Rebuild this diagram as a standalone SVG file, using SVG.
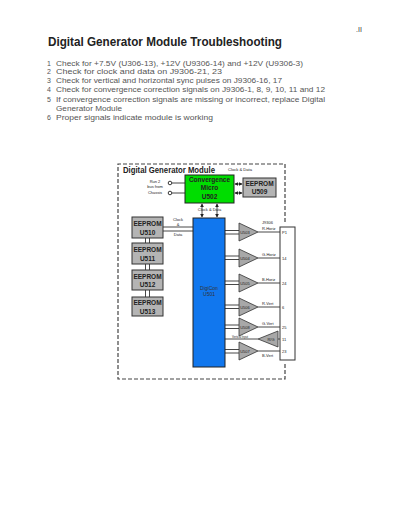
<svg xmlns="http://www.w3.org/2000/svg" width="400" height="518" viewBox="0 0 400 518">
<defs>
<style>
.t{font-family:"Liberation Sans",Arial,sans-serif;fill:#333}
.li{font-size:7px;fill:#555}
.b{font-weight:bold;fill:#222}
.sm{font-size:4px;fill:#222}
.box{fill:#b4b4b4;stroke:#333;stroke-width:1}
.ln{stroke:#333;stroke-width:0.9;fill:none}
.amp{fill:#a8a8a8;stroke:#333;stroke-width:0.8}
.dash{stroke:#444;stroke-width:1.2;stroke-dasharray:4 2;fill:none}
</style>
<marker id="ah" viewBox="0 0 6 6" refX="5" refY="3" markerWidth="4" markerHeight="4" orient="auto-start-reverse"><path d="M0,0L6,3L0,6z" fill="#222"/></marker>
</defs>
<rect width="400" height="518" fill="#fff"/>
<text class="t" x="356" y="32" font-size="7">.II</text>
<text class="t b" x="48" y="46" font-size="12.5" textLength="234" lengthAdjust="spacingAndGlyphs">Digital Generator Module Troubleshooting</text>
<g class="t li">
<text x="47" y="65.5">1</text><text x="56" y="65.5" textLength="247" lengthAdjust="spacingAndGlyphs">Check for +7.5V (U306-13), +12V (U9306-14) and +12V (U9306-3)</text>
<text x="47" y="74">2</text><text x="56" y="74" textLength="166" lengthAdjust="spacingAndGlyphs">Check for clock and data on J9306-21, 23</text>
<text x="47" y="82.5">3</text><text x="56" y="82.5" textLength="226" lengthAdjust="spacingAndGlyphs">Check for vertical and horizontal sync pulses on J9306-16, 17</text>
<text x="47" y="91.5">4</text><text x="56" y="91.5" textLength="269" lengthAdjust="spacingAndGlyphs">Check for convergence correction signals on J9306-1, 8, 9, 10, 11 and 12</text>
<text x="47" y="102">5</text><text x="56" y="102" textLength="269" lengthAdjust="spacingAndGlyphs">If convergence correction signals are missing or incorrect, replace Digital</text>
<text x="56" y="110.5" textLength="66" lengthAdjust="spacingAndGlyphs">Generator Module</text>
<text x="47" y="120">6</text><text x="56" y="120" textLength="157" lengthAdjust="spacingAndGlyphs">Proper signals indicate module is working</text>
</g>

<g id="frame">
<path class="dash" d="M285,222 V164 H118 V379 H285 V364"/>
<text class="t b" x="123" y="173" font-size="9" textLength="92" lengthAdjust="spacingAndGlyphs">Digital Generator Module</text>
<text class="t sm" x="228" y="171" textLength="24" lengthAdjust="spacingAndGlyphs">Clock &amp; Data</text>
</g>

<g id="connectors">
<circle cx="170" cy="183" r="1.8" fill="#fff" stroke="#222" stroke-width="0.9"/>
<circle cx="170" cy="193" r="1.8" fill="#fff" stroke="#222" stroke-width="0.9"/>
<line class="ln" x1="172" y1="183" x2="185" y2="183"/>
<line class="ln" x1="172" y1="193" x2="185" y2="193"/>
<line class="ln" x1="235" y1="184" x2="242" y2="184" marker-start="url(#ah)" marker-end="url(#ah)"/>
<line class="ln" x1="235" y1="193" x2="242" y2="193" marker-start="url(#ah)" marker-end="url(#ah)"/>
<line class="ln" x1="202" y1="204" x2="202" y2="217" marker-start="url(#ah)" marker-end="url(#ah)"/>
<line class="ln" x1="217" y1="204" x2="217" y2="217" marker-start="url(#ah)" marker-end="url(#ah)"/>
<text class="t sm" x="209.5" y="211" text-anchor="middle">Clock &amp; Data</text>
<line class="ln" x1="163" y1="227" x2="193" y2="227"/>
<line class="ln" x1="163" y1="231" x2="193" y2="231"/>
<text class="t sm" x="178" y="221" text-anchor="middle">Clock</text>
<text class="t sm" x="178" y="225.5" text-anchor="middle">&amp;</text>
<text class="t sm" x="178" y="235.5" text-anchor="middle">Data</text>
<path class="ln" d="M145.5,238V243M149.5,238V243M145.5,264V270M149.5,264V270M145.5,290V297M149.5,290V297"/>
<g class="ln">
<path d="M225,230.5H240M225,234H240"/>
<path d="M225,256H240M225,259.5H240"/>
<path d="M225,281H240M225,284.5H240"/>
<path d="M225,305H240M225,308.5H240"/>
<path d="M225,325H240M225,328.5H240"/>
<path d="M225,349.5H240M225,353H240"/>
<path d="M225,339H258"/>
<path d="M258,232H280M258,258H280M258,283H280M258,307H280M258,327H280M278,339H280M258,351H280"/>
</g>
<text class="t sm" x="240" y="337.5" textLength="16" lengthAdjust="spacingAndGlyphs" text-anchor="middle">Vertical Input</text>
<text class="t sm" x="262" y="230">R-Horiz</text>
<text class="t sm" x="262" y="256">G-Horiz</text>
<text class="t sm" x="262" y="281">B-Horiz</text>
<text class="t sm" x="262" y="305">R-Vert</text>
<text class="t sm" x="262" y="325">G-Vert</text>
<text class="t sm" x="262" y="356.5">B-Vert</text>
</g>

<g id="micro">
<rect x="185" y="175" width="49" height="28" fill="#00dd00" stroke="#222" stroke-width="1"/>
<text class="t b" x="209.5" y="182" font-size="6.5" text-anchor="middle">Convergence</text>
<text class="t b" x="209.5" y="190" font-size="6.5" text-anchor="middle">Micro</text>
<text class="t b" x="209.5" y="198.5" font-size="6.5" text-anchor="middle">U502</text>
</g>
<g id="chassis">
<text class="t sm" x="155" y="182.5" text-anchor="middle">Run 2</text>
<text class="t sm" x="155" y="187.5" text-anchor="middle">bus from</text>
<text class="t sm" x="155" y="193.5" text-anchor="middle">Chassis</text>
</g>
<g id="u509">
<rect class="box" x="243" y="178" width="33" height="19"/>
<text class="t b" x="259.5" y="186" font-size="6.5" text-anchor="middle">EEPROM</text>
<text class="t b" x="259.5" y="194" font-size="6.5" text-anchor="middle">U509</text>
</g>
<g id="u510">
<rect class="box" x="132" y="217" width="31" height="21"/>
<text class="t b" x="147.5" y="226" font-size="6.5" text-anchor="middle">EEPROM</text>
<text class="t b" x="147.5" y="234.5" font-size="6.5" text-anchor="middle">U510</text>
</g>
<g id="u511">
<rect class="box" x="132" y="243" width="31" height="21"/>
<text class="t b" x="147.5" y="252" font-size="6.5" text-anchor="middle">EEPROM</text>
<text class="t b" x="147.5" y="260.5" font-size="6.5" text-anchor="middle">U511</text>
</g>
<g id="u512">
<rect class="box" x="132" y="270" width="31" height="20"/>
<text class="t b" x="147.5" y="278.5" font-size="6.5" text-anchor="middle">EEPROM</text>
<text class="t b" x="147.5" y="287" font-size="6.5" text-anchor="middle">U512</text>
</g>
<g id="u513">
<rect class="box" x="132" y="297" width="31" height="19"/>
<text class="t b" x="147.5" y="305" font-size="6.5" text-anchor="middle">EEPROM</text>
<text class="t b" x="147.5" y="313.5" font-size="6.5" text-anchor="middle">U513</text>
</g>
<g id="digicon">
<rect x="193" y="218" width="32" height="149" fill="#1177ee" stroke="#222" stroke-width="1"/>
<text class="t" x="209" y="290" font-size="5" text-anchor="middle" fill="#111">DigiCon</text>
<text class="t" x="209" y="296" font-size="5" text-anchor="middle" fill="#111">U501</text>
</g>
<g id="amp1"><path class="amp" d="M239,223L258,232L239,241z"/><text class="t sm" x="245" y="233.5" text-anchor="middle">U503</text></g>
<g id="amp2"><path class="amp" d="M239,249L258,258L239,267z"/><text class="t sm" x="245" y="259.5" text-anchor="middle">U504</text></g>
<g id="amp3"><path class="amp" d="M239,274L258,283L239,292z"/><text class="t sm" x="245" y="284.5" text-anchor="middle">U505</text></g>
<g id="amp4"><path class="amp" d="M239,298L258,307L239,316z"/><text class="t sm" x="245" y="308.5" text-anchor="middle">U506</text></g>
<g id="amp5"><path class="amp" d="M239,318L258,327L239,336z"/><text class="t sm" x="245" y="328.5" text-anchor="middle">U508</text></g>
<g id="amp6"><path class="amp" d="M239,342L258,351L239,360z"/><text class="t sm" x="245" y="352.5" text-anchor="middle">U507</text></g>
<g id="ampin"><path class="amp" d="M278,331L258,339L278,347z"/><text class="t sm" x="271" y="340.5" text-anchor="middle">R/G</text></g>
<g id="j9306">
<rect x="280" y="227" width="15" height="133" fill="#fff" stroke="#333" stroke-width="1"/>
<text class="t sm" x="262" y="223.5">J9306</text>
<text class="t sm" x="282" y="234">P1</text>
<text class="t sm" x="282" y="260">14</text>
<text class="t sm" x="282" y="285">24</text>
<text class="t sm" x="282" y="309">6</text>
<text class="t sm" x="282" y="329">25</text>
<text class="t sm" x="282" y="341">11</text>
<text class="t sm" x="282" y="353">23</text>
</g>
</svg>
